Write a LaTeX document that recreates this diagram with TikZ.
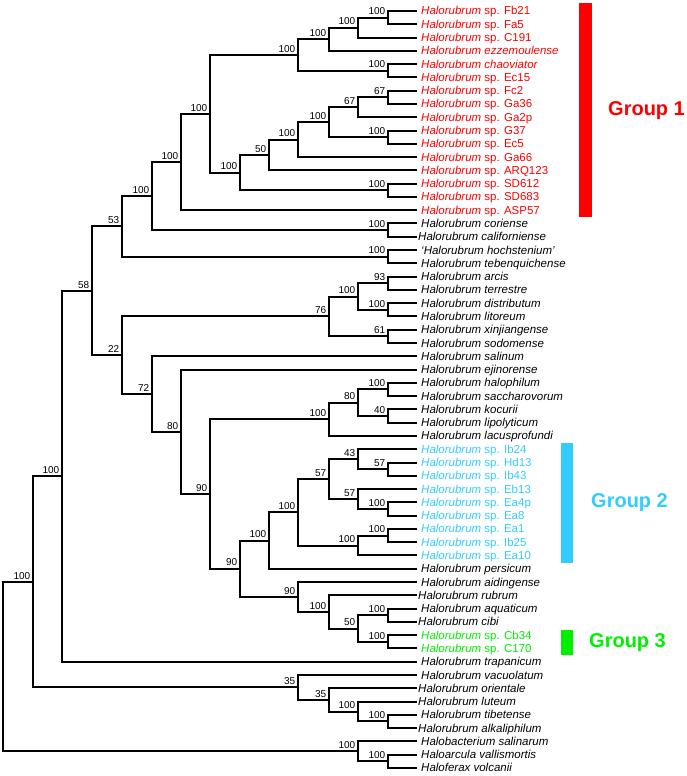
\documentclass[tikz,border=0pt]{standalone}
\usepackage{fontspec}
\setmainfont{Liberation Sans}
\usetikzlibrary{calc}
\definecolor{gone}{HTML}{FF0000}
\definecolor{gtwo}{HTML}{33CCFF}
\definecolor{gthree}{HTML}{00F000}
\tikzset{
  br/.style={line width=2pt, line join=miter, draw=black},
  leaftxt/.style={anchor=base west, inner sep=0pt, font=\fontsize{11.5}{13}\selectfont},
  bs/.style={anchor=base east, inner sep=0pt, font=\fontsize{10}{12}\selectfont},
  grp/.style={anchor=west, inner sep=0pt, font=\fontsize{20}{24}\selectfont\bfseries},
  gc1/.style={text=gone}, gc2/.style={text=gtwo}, gc3/.style={text=gthree}, gc0/.style={text=black}
}
% leaf: name, index, colour style, x offset, text
\newcommand\leaf[5]{%
  \coordinate (#1) at (417,{11+(#2-1)*13.28});
  \node[leaftxt,#3] (#1txt) at ({421+#4},{15+(#2-1)*13.28}) {#5};}
% internal node: name, x, child1, child2, support
\newcommand\inode[5]{%
  \path let \p1=($(#3)!0.5!(#4)$) in (#2pt,\y1) coordinate (#1);
  \draw[br] (#1) |- (#3);
  \draw[br] (#1) |- (#4);
  \node[bs] (#1lab) at ([xshift=-2.5pt,yshift=2.8pt]#1) {#5};}
\newcommand\Hr{\textit{Halorubrum}}
\begin{document}
\begin{tikzpicture}[x=1pt,y=-1pt]
\useasboundingbox (0,0) rectangle (686,776);
% leaves
\leaf{l1}{1}{gc1}{0}{\Hr{} sp. Fb21}
\leaf{l2}{2}{gc1}{0}{\Hr{} sp. Fa5}
\leaf{l3}{3}{gc1}{0}{\Hr{} sp. C191}
\leaf{l4}{4}{gc1}{0}{\textit{Halorubrum ezzemoulense}}
\leaf{l5}{5}{gc1}{0}{\textit{Halorubrum chaoviator}}
\leaf{l6}{6}{gc1}{0}{\Hr{} sp. Ec15}
\leaf{l7}{7}{gc1}{0}{\Hr{} sp. Fc2}
\leaf{l8}{8}{gc1}{0}{\Hr{} sp. Ga36}
\leaf{l9}{9}{gc1}{0}{\Hr{} sp. Ga2p}
\leaf{l10}{10}{gc1}{0}{\Hr{} sp. G37}
\leaf{l11}{11}{gc1}{0}{\Hr{} sp. Ec5}
\leaf{l12}{12}{gc1}{0}{\Hr{} sp. Ga66}
\leaf{l13}{13}{gc1}{0}{\Hr{} sp. ARQ123}
\leaf{l14}{14}{gc1}{0}{\Hr{} sp. SD612}
\leaf{l15}{15}{gc1}{0}{\Hr{} sp. SD683}
\leaf{l16}{16}{gc1}{0}{\Hr{} sp. ASP57}
\leaf{l17}{17}{gc0}{0}{\textit{Halorubrum coriense}}
\leaf{l18}{18}{gc0}{-3}{\textit{Halorubrum californiense}}
\leaf{l19}{19}{gc0}{0}{\textit{‘Halorubrum hochstenium’}}
\leaf{l20}{20}{gc0}{0}{\textit{Halorubrum tebenquichense}}
\leaf{l21}{21}{gc0}{0}{\textit{Halorubrum arcis}}
\leaf{l22}{22}{gc0}{0}{\textit{Halorubrum terrestre}}
\leaf{l23}{23}{gc0}{0}{\textit{Halorubrum distributum}}
\leaf{l24}{24}{gc0}{0}{\textit{Halorubrum litoreum}}
\leaf{l25}{25}{gc0}{0}{\textit{Halorubrum xinjiangense}}
\leaf{l26}{26}{gc0}{0}{\textit{Halorubrum sodomense}}
\leaf{l27}{27}{gc0}{0}{\textit{Halorubrum salinum}}
\leaf{l28}{28}{gc0}{0}{\textit{Halorubrum ejinorense}}
\leaf{l29}{29}{gc0}{0}{\textit{Halorubrum halophilum}}
\leaf{l30}{30}{gc0}{0}{\textit{Halorubrum saccharovorum}}
\leaf{l31}{31}{gc0}{0}{\textit{Halorubrum kocurii}}
\leaf{l32}{32}{gc0}{0}{\textit{Halorubrum lipolyticum}}
\leaf{l33}{33}{gc0}{0}{\textit{Halorubrum lacusprofundi}}
\leaf{l34}{34}{gc2}{0}{\Hr{} sp. Ib24}
\leaf{l35}{35}{gc2}{0}{\Hr{} sp. Hd13}
\leaf{l36}{36}{gc2}{0}{\Hr{} sp. Ib43}
\leaf{l37}{37}{gc2}{0}{\Hr{} sp. Eb13}
\leaf{l38}{38}{gc2}{0}{\Hr{} sp. Ea4p}
\leaf{l39}{39}{gc2}{0}{\Hr{} sp. Ea8}
\leaf{l40}{40}{gc2}{0}{\Hr{} sp. Ea1}
\leaf{l41}{41}{gc2}{0}{\Hr{} sp. Ib25}
\leaf{l42}{42}{gc2}{0}{\Hr{} sp. Ea10}
\leaf{l43}{43}{gc0}{0}{\textit{Halorubrum persicum}}
\leaf{l44}{44}{gc0}{0}{\textit{Halorubrum aidingense}}
\leaf{l45}{45}{gc0}{-3}{\textit{Halorubrum rubrum}}
\leaf{l46}{46}{gc0}{0}{\textit{Halorubrum aquaticum}}
\leaf{l47}{47}{gc0}{-3}{\textit{Halorubrum cibi}}
\leaf{l48}{48}{gc3}{0}{\Hr{} sp. Cb34}
\leaf{l49}{49}{gc3}{0}{\Hr{} sp. C170}
\leaf{l50}{50}{gc0}{0}{\textit{Halorubrum trapanicum}}
\leaf{l51}{51}{gc0}{0}{\textit{Halorubrum vacuolatum}}
\leaf{l52}{52}{gc0}{-3}{\textit{Halorubrum orientale}}
\leaf{l53}{53}{gc0}{-3}{\textit{Halorubrum luteum}}
\leaf{l54}{54}{gc0}{0}{\textit{Halorubrum tibetense}}
\leaf{l55}{55}{gc0}{-3}{\textit{Halorubrum alkaliphilum}}
\leaf{l56}{56}{gc0}{0}{\textit{Halobacterium salinarum}}
\leaf{l57}{57}{gc0}{0}{\textit{Haloarcula vallismortis}}
\leaf{l58}{58}{gc0}{0}{\textit{Haloferax volcanii}}
% internal nodes
\inode{a1}{388}{l1}{l2}{100}
\inode{a2}{358}{a1}{l3}{100}
\inode{a3}{329}{a2}{l4}{100}
\inode{a4}{388}{l5}{l6}{100}
\inode{a5}{298}{a3}{a4}{100}
\inode{b1}{388}{l7}{l8}{67}
\inode{b2}{358}{b1}{l9}{67}
\inode{b3}{388}{l10}{l11}{100}
\inode{b4}{329}{b2}{b3}{100}
\inode{b5}{298}{b4}{l12}{100}
\inode{b6}{269}{b5}{l13}{50}
\inode{b7}{388}{l14}{l15}{100}
\inode{b8}{240}{b6}{b7}{100}
\inode{c1}{210}{a5}{b8}{100}
\inode{c2}{181}{c1}{l16}{100}
\inode{c3}{388}{l17}{l18}{100}
\inode{c4}{152}{c2}{c3}{100}
\inode{c5}{388}{l19}{l20}{100}
\inode{c6}{122}{c4}{c5}{53}
\inode{d1}{388}{l21}{l22}{93}
\inode{d2}{388}{l23}{l24}{100}
\inode{d3}{358}{d1}{d2}{100}
\inode{d4}{388}{l25}{l26}{61}
\inode{d5}{329}{d3}{d4}{76}
\inode{e1}{388}{l29}{l30}{100}
\inode{e2}{388}{l31}{l32}{40}
\inode{e3}{358}{e1}{e2}{80}
\inode{e4}{329}{e3}{l33}{100}
\inode{f1}{388}{l35}{l36}{57}
\inode{f2}{358}{l34}{f1}{43}
\inode{f3}{388}{l38}{l39}{100}
\inode{f4}{358}{l37}{f3}{57}
\inode{f5}{329}{f2}{f4}{57}
\inode{f6}{388}{l40}{l41}{100}
\inode{f7}{358}{f6}{l42}{100}
\inode{f8}{298}{f5}{f7}{100}
\inode{f9}{269}{f8}{l43}{100}
\inode{g1}{388}{l46}{l47}{100}
\inode{g2}{388}{l48}{l49}{100}
\inode{g3}{358}{g1}{g2}{50}
\inode{g4}{329}{l45}{g3}{100}
\inode{g5}{298}{l44}{g4}{90}
\inode{g6}{240}{f9}{g5}{90}
\inode{h1}{210}{e4}{g6}{90}
\inode{h2}{181}{l28}{h1}{80}
\inode{h3}{152}{l27}{h2}{72}
\inode{h4}{122}{d5}{h3}{22}
\inode{h5}{92}{c6}{h4}{58}
\inode{h6}{62}{h5}{l50}{100}
\inode{i1}{388}{l54}{l55}{100}
\inode{i2}{358}{l53}{i1}{100}
\inode{i3}{329}{l52}{i2}{35}
\inode{i4}{298}{l51}{i3}{35}
\inode{h7}{33}{h6}{i4}{100}
\inode{j1}{388}{l57}{l58}{100}
\inode{j2}{358}{l56}{j1}{100}
% root
\path let \p1=($(h7)!0.5!(j2)$) in (3pt,\y1) coordinate (root);
\draw[br] (root) |- (h7);
\draw[br] (root) |- (j2);
% group bars and labels
\fill[gone] (579,3) rectangle (592,217);
\fill[gtwo] (561,443) rectangle (573,563);
\fill[gthree] (561,630) rectangle (573,655);
\node[grp,text=gone] (grp1) at (608,111) {Group 1};
\node[grp,text=gtwo] (grp2) at (591,503) {Group 2};
\node[grp,text=gthree] (grp3) at (589,643) {Group 3};
\end{tikzpicture}
\end{document}
